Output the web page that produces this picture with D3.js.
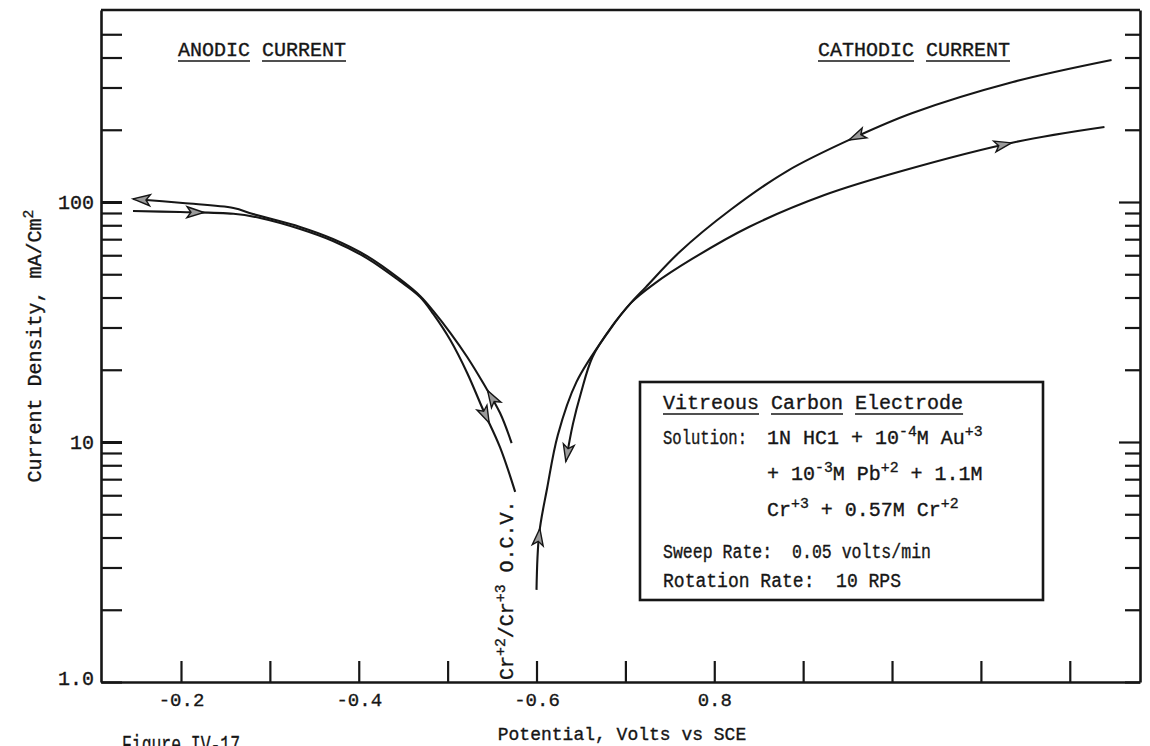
<!DOCTYPE html>
<html>
<head>
<meta charset="utf-8">
<script src="https://cdn.jsdelivr.net/npm/d3@7"></script>
<style>
body { margin: 0; background: #fff; }
text { font-family: "Liberation Mono", "DejaVu Sans Mono", monospace; fill: #161616; stroke: #161616; stroke-width: 0.35px; white-space: pre; }
</style>
</head>
<body>
<div id="chart"></div>
<script>

// potentials in volts vs SCE (negative), current density in mA/cm2
// anodic branch, sweep leaving the O.C.V.
var anodicOutV = [-0.572, -0.559, -0.540, -0.522, -0.503, -0.484, -0.469, -0.446, -0.409, -0.371, -0.334, -0.281, -0.259, -0.202, -0.146]
var anodicOutI = [9.9, 13.2, 17.6, 22.6, 28.5, 35.1, 40.6, 47.8, 59.6, 70.1, 78.7, 89.1, 94.4, 99.0, 103]
// anodic branch, sweep coming back to the O.C.V.
var anodicBackV = [-0.146, -0.199, -0.259, -0.289, -0.334, -0.371, -0.409, -0.446, -0.469, -0.484, -0.503, -0.522, -0.540, -0.559, -0.576]
var anodicBackI = [91.7, 90.8, 89.3, 85.8, 77.2, 68.8, 58.4, 46.9, 40.2, 34.1, 26.6, 19.4, 13.6, 9.5, 6.2]
// cathodic branch, sweep leaving the O.C.V.
var cathodicOutV = [-0.600, -0.603, -0.612, -0.624, -0.645, -0.680, -0.706, -0.732, -0.775, -0.839, -0.924, -1.011, -1.139, -1.239]
var cathodicOutI = [2.42, 4.14, 6.43, 10.7, 17.8, 28.5, 37.9, 45.5, 57.9, 78.7, 106.9, 134.6, 177.8, 205.3]
// cathodic branch, sweep coming back
var cathodicBackV = [-1.247, -1.136, -1.023, -0.959, -0.882, -0.818, -0.761, -0.723, -0.706, -0.685, -0.663, -0.650, -0.641, -0.633]
var cathodicBackI = [390.6, 316.2, 234.9, 186.6, 134.6, 92.6, 61.9, 44.2, 37.9, 30.4, 22.6, 16.0, 11.9, 8.3]

// ticks
var xTicks = [-0.2, -0.3, -0.4, -0.5, -0.6, -0.7, -0.8, -0.9, -1.0, -1.1, -1.2]
var xTickLabels = ["-0.2", "", "-0.4", "", "-0.6", "", "0.8", "", "", "", ""]
var yTicks = [1, 2, 3, 4, 5, 6, 7, 8, 9, 10, 20, 30, 40, 50, 60, 70, 80, 90, 100, 200, 300, 400, 500]
var yLabelValues = [1, 10, 100]
var yLabelText = ["1.0", "10", "100"]

var W = 1150, H = 746
// plot frame (window.top is reserved, so use a box object)
var frame = { left: 101, right: 1140, top: 10, bottom: 682 }

var svg = d3.select("#chart").append("svg")
    .attr("width", W)
    .attr("height", H)

var x = d3.scaleLinear().domain([-0.11, -1.279]).range([frame.left, frame.right])
var y = d3.scaleLog().domain([1, 631]).range([frame.bottom, frame.top])

// helper for text with superscripts, parts = [[text, isSup], ...]
function richText(g, parts, size) {
  var t = g.append("text").style("font-size", size + "px")
  var shift = 0
  parts.forEach(function(p) {
    var target = p[1] ? -0.42 * size : 0
    t.append("tspan")
      .attr("dy", target - shift)
      .style("font-size", (p[1] ? 0.74 * size : size) + "px")
      .text(p[0])
    shift = target
  })
  return t
}

function underlinedWords(px, py, words, size) {
  var cx = px
  words.forEach(function(w) {
    var t = svg.append("text").attr("x", cx).attr("y", py).style("font-size", size + "px").text(w)
    var len = t.node().getComputedTextLength()
    svg.append("line")
      .attr("x1", cx).attr("x2", cx + len)
      .attr("y1", py + 5).attr("y2", py + 5)
      .attr("stroke", "#161616").attr("stroke-width", 1.6)
    cx += len + size * 0.6
  })
}

// squeeze a plain line of text to the width it has in the figure
function fitText(px, py, str, size, len) {
  return svg.append("text").attr("x", px).attr("y", py)
    .style("font-size", size + "px")
    .attr("textLength", len).attr("lengthAdjust", "spacingAndGlyphs")
    .text(str)
}

// bottom axis, ticks pointing inwards
var gx = svg.append("g")
  .attr("transform", "translate(0," + frame.bottom + ")")
  .call(d3.axisBottom(x).tickValues(xTicks)
    .tickFormat(function(d, i) { return xTickLabels[i] })
    .tickSizeInner(-21).tickSizeOuter(0).tickPadding(11))

// left axis
var gy = svg.append("g")
  .attr("transform", "translate(" + frame.left + ",0)")
  .call(d3.axisLeft(y).tickValues(yTicks)
    .tickFormat(function(d) { var k = yLabelValues.indexOf(d); return k < 0 ? "" : yLabelText[k] })
    .tickSizeInner(-21).tickSizeOuter(0).tickPadding(7))

// right axis, no labels
var gr = svg.append("g")
  .attr("transform", "translate(" + frame.right + ",0)")
  .call(d3.axisLeft(y).tickValues(yTicks).tickFormat("")
    .tickSizeInner(15).tickSizeOuter(0))
gr.selectAll(".tick line").filter(function(d) { return d == 10 || d == 100 }).attr("x2", -21)

svg.append("line")
  .attr("x1", frame.left).attr("x2", frame.right).attr("y1", frame.top).attr("y2", frame.top)
  .attr("stroke", "#161616").attr("stroke-width", 2.6)

svg.selectAll(".domain").attr("stroke", "#161616").attr("stroke-width", 2.6)
svg.selectAll(".tick line").attr("stroke", "#161616").attr("stroke-width", 2.2)
gy.selectAll(".tick line").filter(function(d) { return d == 10 || d == 100 }).attr("stroke-width", 3)
svg.selectAll(".tick text").style("font-size", "19px").attr("fill", "#161616")
gy.selectAll(".tick text").style("font-size", "20px")
svg.selectAll(".tick").filter(function(d) { return d == 1 }).select("text").attr("dy", "0.1em")

// curves
var line = d3.line()
  .x(function(d) { return x(d[0]) })
  .y(function(d) { return y(d[1]) })
  .curve(d3.curveCatmullRom.alpha(0.5))

var series = [
  { v: anodicOutV, i: anodicOutI, arrows: [0.12, 1] },
  { v: anodicBackV, i: anodicBackI, arrows: [0.135, 0.86] },
  { v: cathodicOutV, i: cathodicOutI, arrows: [0.075, 0.885] },
  { v: cathodicBackV, i: cathodicBackI, arrows: [0.38, 1] }
]

series.forEach(function(s) {
  var pts = d3.zip(s.v, s.i)
  var p = svg.append("path")
    .attr("d", line(pts))
    .attr("fill", "none")
    .attr("stroke", "#161616")
    .attr("stroke-width", 2.1)
  var node = p.node()
  var L = node.getTotalLength()
  s.arrows.forEach(function(f) {
    var a = node.getPointAtLength(f * L)
    var b = node.getPointAtLength(Math.max(0, f * L - 4))
    var ang = Math.atan2(a.y - b.y, a.x - b.x) * 180 / Math.PI
    svg.append("path")
      .attr("d", "M0,0L-17,-5.5L-13,0L-17,5.5Z")
      .attr("transform", "translate(" + a.x + "," + a.y + ") rotate(" + ang + ")")
      .attr("fill", "#9a9a9a")
      .attr("stroke", "#161616")
      .attr("stroke-width", 1.4)
  })
})

// headings
underlinedWords(178, 56, ["ANODIC", "CURRENT"], 20)
underlinedWords(818, 56, ["CATHODIC", "CURRENT"], 20)

// legend box
svg.append("rect")
  .attr("x", 640).attr("y", 382).attr("width", 403).attr("height", 218)
  .attr("fill", "#fff").attr("stroke", "#161616").attr("stroke-width", 2.6)

underlinedWords(663, 409, ["Vitreous", "Carbon", "Electrode"], 20)
fitText(663, 444, "Solution:", 20, 84)
richText(svg, [["1N HC1 + 10", 0], ["-4", 1], ["M Au", 0], ["+3", 1]], 20).attr("x", 767).attr("y", 444)
richText(svg, [["+ 10", 0], ["-3", 1], ["M Pb", 0], ["+2", 1], [" + 1.1M", 0]], 20).attr("x", 767).attr("y", 480)
richText(svg, [["Cr", 0], ["+3", 1], [" + 0.57M Cr", 0], ["+2", 1]], 20).attr("x", 767).attr("y", 516)
fitText(663, 558, "Sweep Rate:  0.05 volts/min", 20, 268)
fitText(663, 587, "Rotation Rate:  10 RPS", 20, 238)

// O.C.V. marker label
richText(svg, [["Cr", 0], ["+2", 1], ["/Cr", 0], ["+3", 1], [" O.C.V.", 0]], 20)
  .attr("transform", "translate(513,680) rotate(-90)")

// axis titles
richText(svg, [["Current Density, mA/Cm", 0], ["2", 1]], 20)
  .attr("text-anchor", "middle")
  .attr("transform", "translate(41,346) rotate(-90)")
svg.append("text")
  .attr("x", 622).attr("y", 740)
  .attr("text-anchor", "middle")
  .style("font-size", "18px")
  .text("Potential, Volts vs SCE")

// caption cut by the page edge
fitText(122, 752, "Figure IV-17", 23, 118)

</script>
</body>
</html>
